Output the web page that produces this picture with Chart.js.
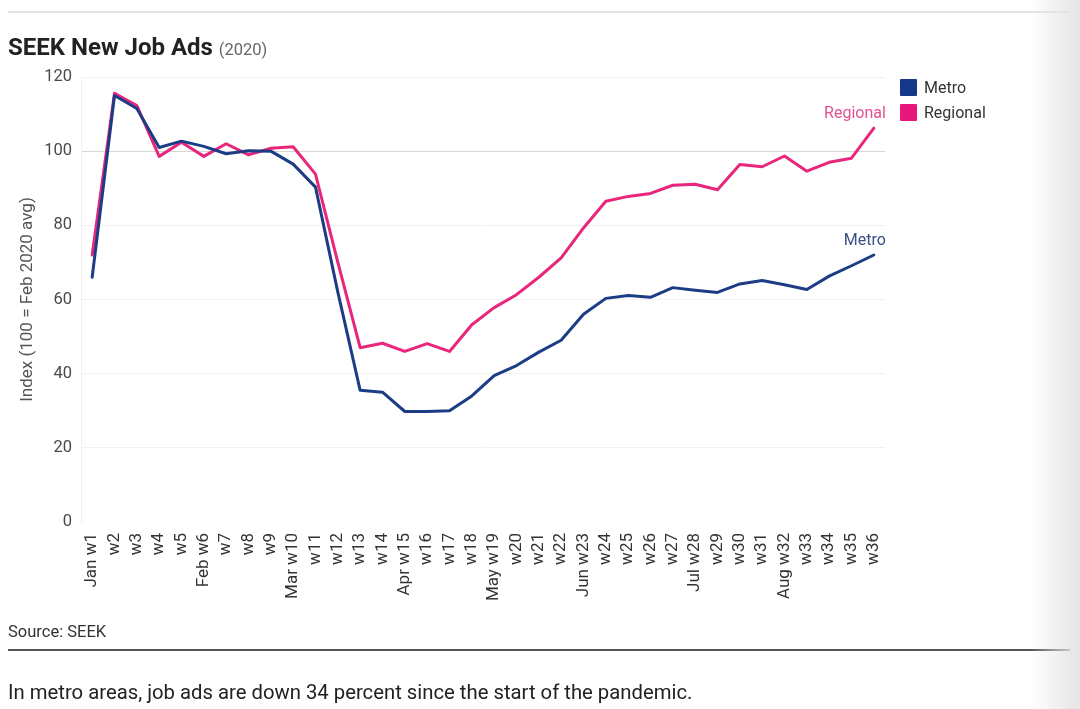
<!DOCTYPE html>
<html>
<head>
<meta charset="utf-8">
<script src="https://cdn.jsdelivr.net/npm/chart.js@4/dist/chart.umd.min.js"></script>
<style>
  html, body { margin: 0; padding: 0; background: #fff; }
  body { width: 1080px; height: 709px; position: relative; overflow: hidden; font-family: Roboto, sans-serif; }
  #wrap { position: absolute; left: 0; top: 0; width: 1080px; height: 709px; }
  .abs { position: absolute; line-height: 1; white-space: nowrap; }
  #topline { left: 8px; top: 11px; width: 1062px; height: 2px; background: #e2e2e2; }
  #title { left: 8px; top: 35px; font-size: 24px; font-weight: bold; color: #222; }
  #title span { font-size: 16.5px; font-weight: normal; color: #666; }
  #legend { left: 900px; top: 75px; font-size: 16px; color: #333; }
  #legend div { height: 25px; display: flex; align-items: center; }
  #legend i { display: inline-block; width: 17px; height: 17px; margin-right: 7px; border-radius: 1px; }
  #source { left: 8px; top: 624px; font-size: 16.5px; color: #333; }
  #rule { left: 8px; top: 649px; width: 1062px; height: 2px; background: #555; }
  #caption { left: 8px; top: 682px; font-size: 20.3px; color: #222; }
  #shade { position: absolute; left: 1030px; top: 0; width: 50px; height: 709px;
           background: linear-gradient(to right, rgba(230,230,230,0), rgba(228,228,228,1)); }
</style>
</head>
<body>
<div id="wrap"><canvas id="myChart"></canvas></div>
<div class="abs" id="topline"></div>
<div class="abs" id="title">SEEK New Job Ads <span>(2020)</span></div>
<div class="abs" id="legend">
  <div><i style="background:#15388a"></i>Metro</div>
  <div><i style="background:#e8177c"></i>Regional</div>
</div>
<div class="abs" id="source">Source: SEEK</div>
<div class="abs" id="rule"></div>
<div class="abs" id="caption">In metro areas, job ads are down 34 percent since the start of the pandemic.</div>
<div id="shade"></div>
<script>
const weeks = ['Jan w1', 'w2', 'w3', 'w4', 'w5', 'Feb w6', 'w7', 'w8', 'w9', 'Mar w10',
  'w11', 'w12', 'w13', 'w14', 'Apr w15', 'w16', 'w17', 'w18', 'May w19', 'w20',
  'w21', 'w22', 'Jun w23', 'w24', 'w25', 'w26', 'w27', 'Jul w28', 'w29', 'w30',
  'w31', 'Aug w32', 'w33', 'w34', 'w35', 'w36'];

const metro = [66, 115, 111.5, 101, 102.7, 101.3, 99.3, 100.1, 100, 96.5,
  90.3, 62, 35.5, 35, 29.8, 29.8, 30, 34, 39.5, 42.2,
  45.8, 49, 56, 60.3, 61.1, 60.6, 63.2, 62.5, 61.9, 64.2,
  65.1, 64, 62.7, 66.3, 69.1, 72];

const regional = [72, 115.6, 112.3, 98.6, 102.4, 98.6, 102, 99, 100.8, 101.2,
  93.8, 70, 47, 48.2, 46, 48.1, 46, 53.2, 57.8, 61.3,
  66, 71.2, 79.3, 86.5, 87.8, 88.6, 90.8, 91.1, 89.6, 96.4,
  95.8, 98.7, 94.6, 97, 98.1, 106.2];

const yTicks = [0, 20, 40, 60, 80, 100, 120];

// names written at the end of each line
const endLabels = {
  id: 'endLabels',
  afterDatasetsDraw(chart) {
    const ctx = chart.ctx;
    ctx.save();
    ctx.font = '16px Roboto';
    ctx.textAlign = 'right';
    ctx.textBaseline = 'middle';
    chart.data.datasets.forEach((ds, i) => {
      const pts = chart.getDatasetMeta(i).data;
      const p = pts[pts.length - 1];
      ctx.fillStyle = ds.labelColor;
      ctx.fillText(ds.label, p.x + 12, p.y - 14);
    });
    ctx.restore();
  }
};

Chart.defaults.font.family = 'Roboto';

new Chart(document.getElementById('myChart'), {
  type: 'line',
  data: {
    labels: weeks,
    datasets: [
      { label: 'Metro', data: metro, borderColor: '#1c3d86', labelColor: '#3a4f86', borderWidth: 3 },
      { label: 'Regional', data: regional, borderColor: '#e8267c', labelColor: '#e2508f', borderWidth: 3 }
    ]
  },
  options: {
    responsive: true,
    maintainAspectRatio: false,
    animation: false,
    elements: { point: { radius: 0 }, line: { tension: 0, borderJoinStyle: 'round', borderCapStyle: 'round' } },
    layout: { padding: { left: 0, top: 77, right: 195, bottom: 97 } },
    plugins: { legend: { display: false }, tooltip: { enabled: false } },
    scales: {
      x: {
        offset: true,
        grid: { display: false },
        border: { display: false },
        ticks: { autoSkip: false, minRotation: 90, maxRotation: 90, padding: 3, color: '#333', font: { size: 17 } },
        afterFit: s => { s.height = 90; }
      },
      y: {
        min: 0,
        max: 120,
        afterBuildTicks: s => { s.ticks = yTicks.map(v => ({ value: v })); },
        ticks: { padding: 9, color: '#4a4a4a', font: { size: 16.5 } },
        grid: {
          drawTicks: false,
          color: c => c.tick.value === 100 ? '#d6d6d6' : (c.tick.value === 0 ? 'rgba(0,0,0,0)' : '#f1f1f1')
        },
        border: { display: true, color: '#f1f1f1' },
        title: { display: true, text: 'Index (100 = Feb 2020 avg)', color: '#555', font: { size: 17 }, padding: { top: 18, bottom: 0 } },
        afterFit: s => { s.width = 81; }
      }
    }
  },
  plugins: [endLabels]
});
</script>
</body>
</html>
